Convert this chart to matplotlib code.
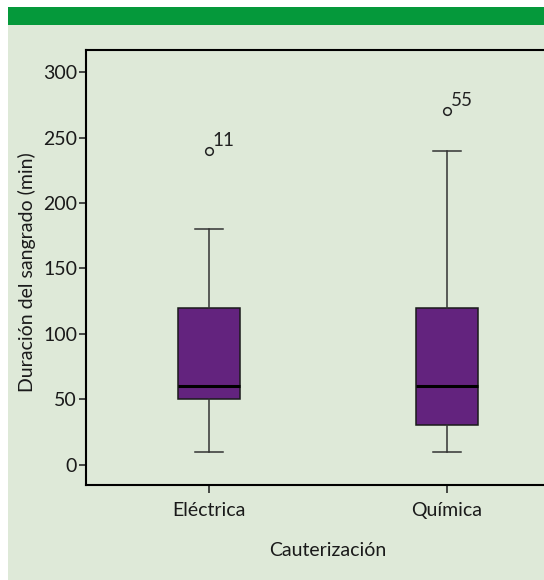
import matplotlib
matplotlib.use("Agg")
import matplotlib.pyplot as plt
from matplotlib.patches import Rectangle

plt.rcParams['font.family'] = ['Lato', 'DejaVu Sans']

categories = ["Eléctrica", "Química"]
whisker_low = [10, 10]
q1 = [50, 30]
median = [60, 60]
q3 = [120, 120]
whisker_high = [180, 240]
outliers = [[240], [270]]
outlier_ids = [["11"], ["55"]]
y_ticks = [0, 50, 100, 150, 200, 250, 300]

bg = "#dee9d8"
fig = plt.figure(figsize=(5.44, 5.80), dpi=100)
fig.patch.set_facecolor("white")

# page panel and green header band
fig.add_artist(Rectangle((8 / 544, 0), 1, 1 - 25 / 580, transform=fig.transFigure,
                         facecolor=bg, edgecolor="none", zorder=0))
fig.add_artist(Rectangle((8 / 544, 1 - 25 / 580), 1, 18 / 580, transform=fig.transFigure,
                         facecolor="#05993b", edgecolor="none", zorder=0))

left, right = 86 / 544, 570 / 544
bottom, top = 1 - 485 / 580, 1 - 50 / 580
ax = fig.add_axes([left, bottom, right - left, top - bottom])
ax.set_facecolor(bg)

stats = []
for i, name in enumerate(categories):
    stats.append(dict(label=name, whislo=whisker_low[i], q1=q1[i], med=median[i],
                      q3=q3[i], whishi=whisker_high[i], fliers=outliers[i]))

positions = [1, 2]
ax.bxp(stats, positions=positions, widths=0.257, patch_artist=True,
       boxprops=dict(facecolor="#63237e", edgecolor="#1a1a1a", linewidth=1.1),
       medianprops=dict(color="black", linewidth=2.2),
       whiskerprops=dict(color="#333333", linewidth=1.1),
       capprops=dict(color="#333333", linewidth=1.1),
       capwidths=0.115,
       flierprops=dict(marker="o", markersize=5.5, markerfacecolor="none",
                       markeredgecolor="#222222", markeredgewidth=1.1))

for pos, vals, ids in zip(positions, outliers, outlier_ids):
    for v, t in zip(vals, ids):
        ax.annotate(t, (pos, v), xytext=(2.5, 1.5), textcoords="offset points",
                    fontsize=13.5, color="#222222", ha="left", va="bottom")

ax.set_xlim(0.483, 2.517)
ax.set_ylim(-15.5, 317)
ax.set_yticks(y_ticks)
ax.set_xticks(positions)
ax.set_xticklabels(categories)
ax.tick_params(axis="both", labelsize=14, colors="#1a1a1a", width=1.1, length=5, pad=1.5)
ax.tick_params(axis="x", length=6, pad=6.5)
for s in ax.spines.values():
    s.set_linewidth(1.5)
    s.set_color("black")

ax.set_ylabel("Duración del sangrado (min)", fontsize=14, color="#1a1a1a")
ax.set_xlabel("Cauterización", fontsize=14, color="#1a1a1a", labelpad=16)
ax.yaxis.set_label_coords(-0.104, 0.49)

fig.savefig("out.png", dpi=100, facecolor=fig.get_facecolor())
